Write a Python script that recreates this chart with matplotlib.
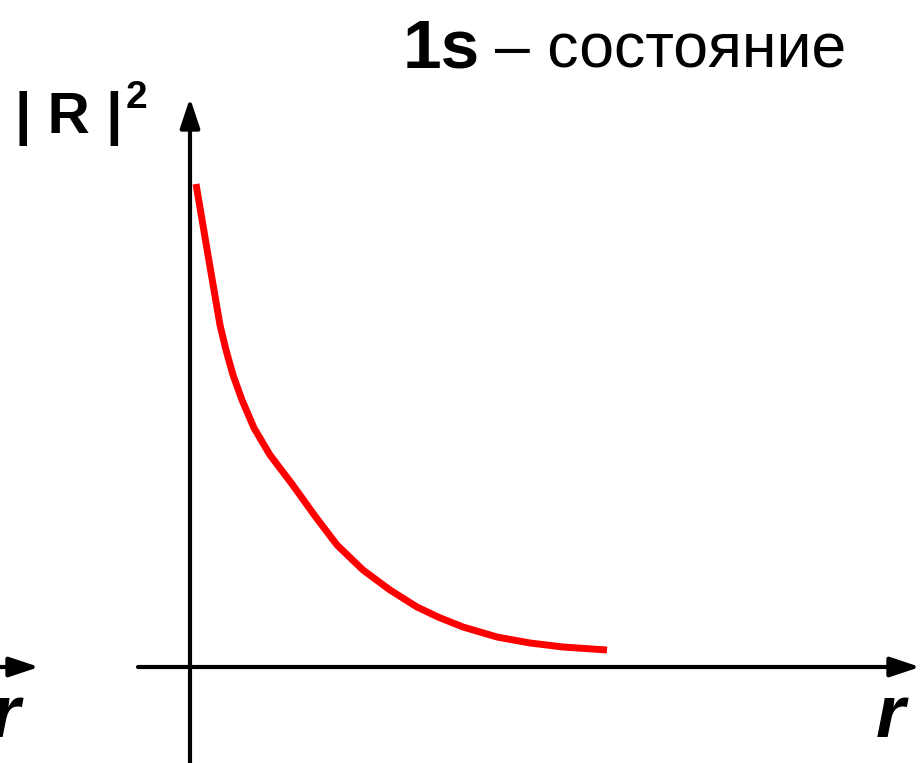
import matplotlib.pyplot as plt

# Radial probability |R|^2 for the 1s state (arbitrary units)
r_values = [0.05, 0.17, 0.29, 0.35, 0.42, 0.51, 0.63, 0.79, 1.01, 1.24,
            1.46, 1.72, 1.99, 2.26, 2.47, 2.72, 3.06, 3.39, 3.72, 4.16]
r2_values = [4.83, 4.12, 3.42, 3.17, 2.92, 2.67, 2.39, 2.12, 1.83, 1.51,
             1.22, 0.97, 0.77, 0.60, 0.50, 0.40, 0.30, 0.24, 0.20, 0.17]

title_bold = "1s"
title_rest = "\u2013 состояние"
y_label = "| R |"
x_label = "r"

plt.rcParams['font.family'] = ['Liberation Sans', 'DejaVu Sans']

fig = plt.figure(figsize=(9.21, 7.63), dpi=100)
ax = fig.add_axes([0, 0, 1, 1])
ax.set_xlim(-1.91, 7.30)
ax.set_ylim(-0.96, 6.67)
ax.axis('off')

arrow = dict(arrowstyle='-|>,head_length=0.9,head_width=0.3', color='black',
             lw=3, mutation_scale=20, shrinkA=0, shrinkB=0)

# axes with arrows
ax.annotate('', xy=(7.29, 0), xytext=(-0.53, 0), arrowprops=arrow)
ax.annotate('', xy=(-0.01, 5.69), xytext=(-0.01, -0.96), arrowprops=arrow)
ax.annotate('', xy=(-1.52, 0), xytext=(-1.95, 0), arrowprops=arrow)

ax.plot(r_values, r2_values, color='#ff0000', lw=5, solid_capstyle='butt',
        solid_joinstyle='round')

# labels
ax.text(-1.76, 5.34, y_label, fontsize=42, fontweight='bold', ha='left', va='baseline')
ax.text(-0.65, 5.59, "2", fontsize=28, fontweight='bold', ha='left', va='baseline')

ax.text(2.12, 5.99, title_bold, fontsize=50, fontweight='bold', ha='left', va='baseline')
ax.text(3.04, 5.99, title_rest, fontsize=45, ha='left', va='baseline')

ax.text(6.85, -0.70, x_label, fontsize=54, fontweight='bold', style='italic',
        ha='left', va='baseline')
ax.text(-2.00, -0.70, x_label, fontsize=54, fontweight='bold', style='italic',
        ha='left', va='baseline')

fig.savefig('out.png', dpi=100)
